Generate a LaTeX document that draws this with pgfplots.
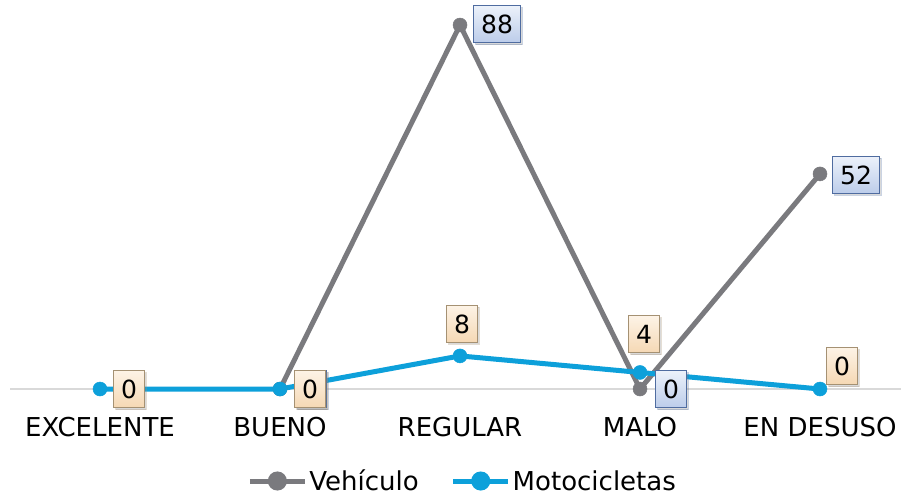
\documentclass[border=0pt]{standalone}
\usepackage{fontspec}
\setmainfont{DejaVu Sans}
\usepackage{pgfplots}
\usepackage{pgfplotstable}
\pgfplotsset{compat=1.18}
\usetikzlibrary{shadows}
\definecolor{vgray}{RGB}{122,122,126}
\definecolor{mblue}{RGB}{13,160,218}
\definecolor{gridc}{RGB}{217,217,217}
\definecolor{vfilltop}{RGB}{236,241,250}
\definecolor{vfillbot}{RGB}{188,205,234}
\definecolor{vborder}{RGB}{79,108,160}
\definecolor{mfilltop}{RGB}{253,243,230}
\definecolor{mfillbot}{RGB}{245,216,180}
\definecolor{mborder}{RGB}{165,145,115}

\pgfplotstableread{
x y dx dy
1 0 31 0
2 88 37 1
3 0 31 0
4 52 36 -1
}\vehiculo
\pgfplotstableread{
x y dx dy
0 0 29 0
1 0 30 0
2 8 2 32
3 4 4 38
4 0 22 23
}\moto

\tikzset{lbl/.style={anchor=center, text=black, line width=1pt,
  inner xsep=7.5pt, inner ysep=0pt, minimum height=37pt,
  font=\fontsize{25}{30}\selectfont,
  drop shadow={opacity=0.3, shadow xshift=2pt, shadow yshift=-2pt}}}

\begin{document}
\begin{tikzpicture}[font=\fontsize{26}{31}\selectfont]
\begin{axis}[
  scale only axis, width=891pt, height=389pt,
  xmin=-0.5, xmax=4.45, ymin=0, ymax=94.05,
  axis x line=bottom, hide y axis,
  x axis line style={draw=gridc, line width=1.5pt, -},
  tick style={draw=none}, ytick=\empty,
  xtick={0,1,2,3,4},
  xticklabels={EXCELENTE,BUENO,REGULAR,MALO,EN DESUSO},
  xticklabel style={anchor=base, yshift=-45pt, inner sep=0pt},
  /pgf/number format/assume math mode=true,
  clip=false,
  legend columns=2,
  legend style={draw=none, fill=none, at={(0.508,-0.2365)}, anchor=center,
    font=\fontsize{26}{31}\selectfont,
    /tikz/every even column/.append style={column sep=30pt}},
  legend image code/.code={
    \draw[#1, mark=none] (0pt,0pt) -- (55pt,0pt);
    \fill[#1] (27.5pt,0pt) circle (7pt);
  },
  visualization depends on={\thisrow{dx} \as \dx},
  visualization depends on={\thisrow{dy} \as \dy},
]
\addplot[vgray, line width=5pt, mark=*, mark size=7pt,
  mark options={line width=0.5pt, fill=vgray},
  nodes near coords, point meta=explicit,
  every node near coord/.style={lbl, xshift=\dx pt, yshift=\dy pt,
    draw=vborder, top color=vfilltop, bottom color=vfillbot}]
  table[x=x, y=y, meta=y]{\vehiculo};
\addlegendentry{Vehículo}
\addplot[mblue, line width=5pt, mark=*, mark size=7pt,
  mark options={line width=0.5pt, fill=mblue},
  nodes near coords, point meta=explicit,
  every node near coord/.style={lbl, xshift=\dx pt, yshift=\dy pt,
    draw=mborder, top color=mfilltop, bottom color=mfillbot}]
  table[x=x, y=y, meta=y]{\moto};
\addlegendentry{Motocicletas}
\end{axis}
\pgfresetboundingbox
\path (current axis.south west) ++(-10pt,-107pt) rectangle ++(902pt,496pt);
\end{tikzpicture}
\end{document}
